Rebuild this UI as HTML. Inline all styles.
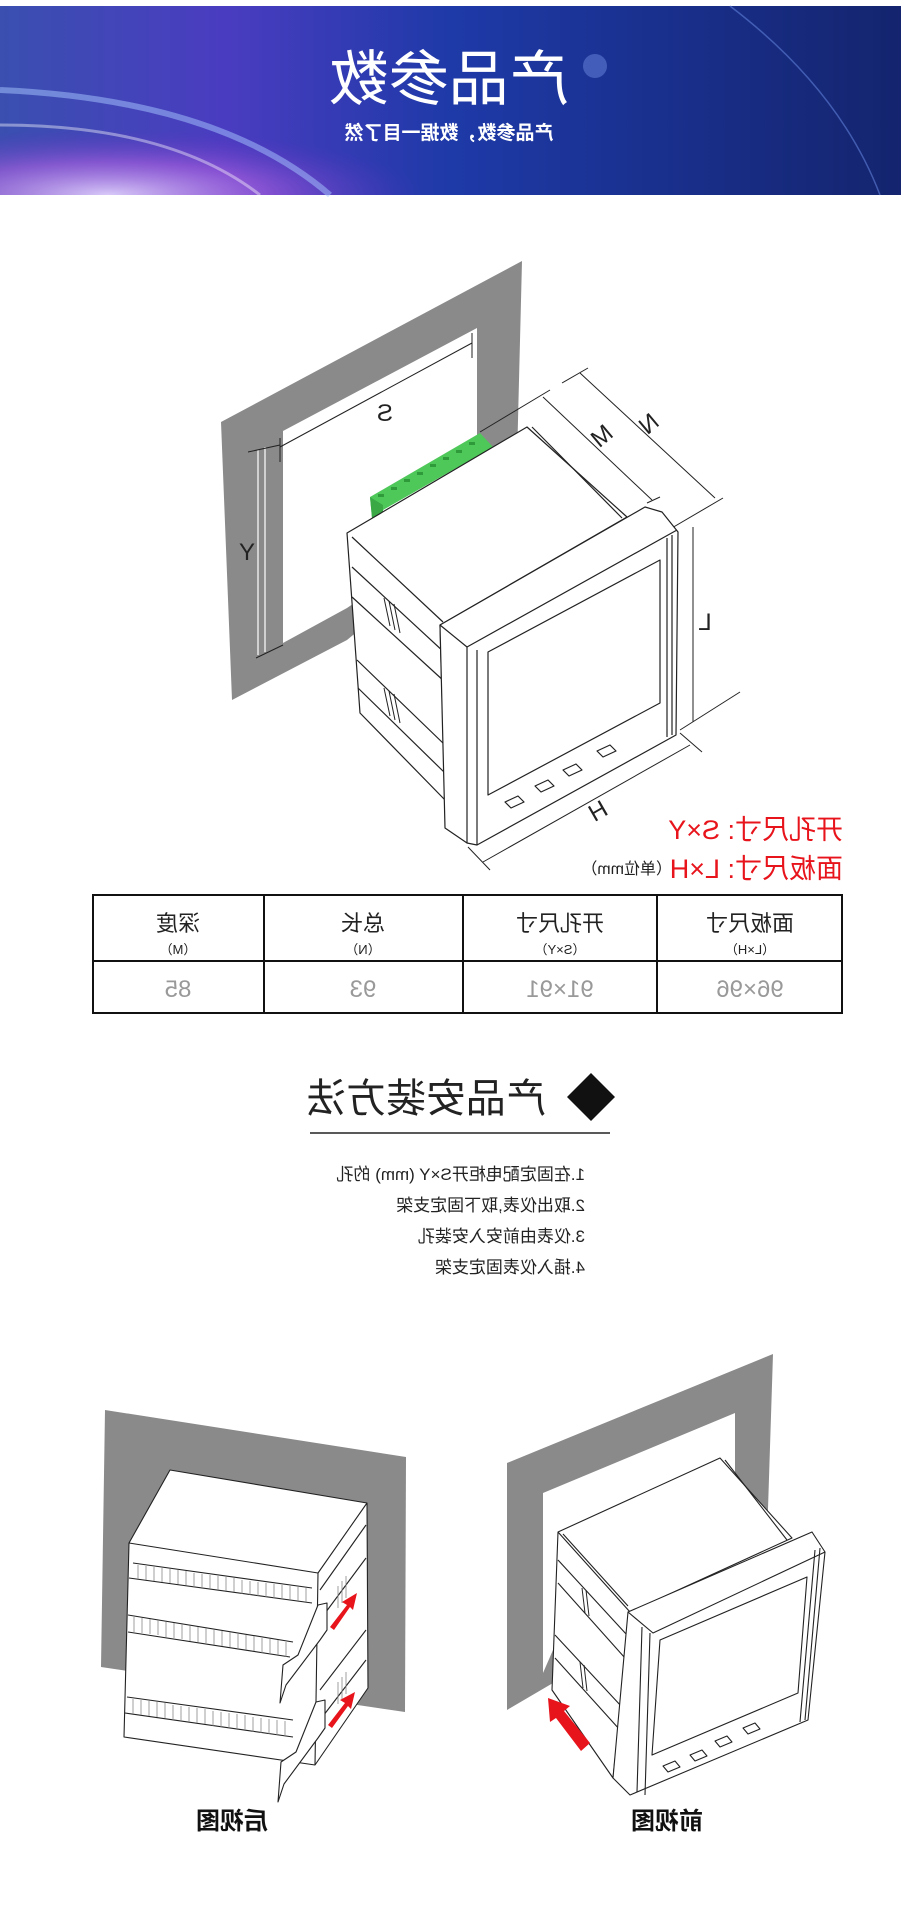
<!DOCTYPE html>
<html><head><meta charset="utf-8"><style>
html,body{margin:0;padding:0;background:#fff;width:901px;height:1909px;overflow:hidden}
svg{display:block}
text{font-family:"Liberation Sans","Noto Sans CJK SC",sans-serif}
</style></head><body>
<svg width="901" height="1909" viewBox="0 0 901 1909" xmlns="http://www.w3.org/2000/svg">
<defs>
<linearGradient id="bg" x1="0" y1="0" x2="1" y2="0">
<stop offset="0" stop-color="#3a4fb0"/><stop offset="0.25" stop-color="#4a3cc0"/><stop offset="0.5" stop-color="#1e3aa8"/><stop offset="1" stop-color="#14246e"/></linearGradient>
<radialGradient id="glow" cx="0.12" cy="1.0" r="0.35">
<stop offset="0" stop-color="#e8d8ff" stop-opacity="0.9"/><stop offset="0.5" stop-color="#b060e0" stop-opacity="0.6"/><stop offset="1" stop-color="#6030c0" stop-opacity="0"/></radialGradient>
</defs>
<rect x="0" y="6" width="901" height="189" fill="url(#bg)"/>
<rect x="0" y="6" width="901" height="189" fill="url(#glow)"/>
<path d="M0 90 Q220 100 330 195" stroke="#a8c8ff" stroke-width="6" fill="none" opacity="0.5"/>
<path d="M0 125 Q170 125 260 195" stroke="#fff" stroke-width="3" fill="none" opacity="0.4"/>
<circle cx="595" cy="66" r="12" fill="#8fb0ff" opacity="0.35"/>
<path d="M730 6 Q840 90 880 195" stroke="#5f80d8" stroke-width="1.5" fill="none" opacity="0.6"/>
<g fill="#fff" text-anchor="middle">
<text transform="translate(449,100) scale(-1,1)" font-size="60">产品参数</text>
<text transform="translate(449,139) scale(-1,1)" font-size="19" font-weight="bold">产品参数，数据一目了然</text>
</g>
<!-- diagram 1 frame -->
<path d="M221 422 L522 261 L516 500 L347 640 L232 700 Z M283 431 L477 328 L477 520 L347 608 L283 643 Z" fill="#8a8a8a" fill-rule="evenodd"/>
<g stroke="#fff" stroke-width="1.2"><line x1="258" y1="450" x2="258" y2="655"/><line x1="265" y1="447" x2="265" y2="652"/></g>
<g stroke="#222" stroke-width="1" fill="none">
<line x1="280" y1="447" x2="472" y2="343"/><line x1="280" y1="438" x2="280" y2="462"/><line x1="472" y1="333" x2="472" y2="358"/>
<line x1="248" y1="452" x2="280" y2="445"/><line x1="256" y1="658" x2="283" y2="645"/>
<line x1="480" y1="432" x2="550" y2="390"/>
<line x1="543" y1="397" x2="652" y2="500"/><line x1="562" y1="383" x2="588" y2="368"/><line x1="647" y1="503" x2="660" y2="497"/>
<line x1="580" y1="373" x2="715" y2="498"/><line x1="665" y1="532" x2="723" y2="498"/>
<line x1="693" y1="527" x2="693" y2="722"/>
<line x1="680" y1="730" x2="740" y2="692"/>
<line x1="483" y1="862" x2="690" y2="745"/><line x1="468" y1="847" x2="490" y2="870"/><line x1="680" y1="733" x2="702" y2="752"/>
</g>
<polygon points="370,497 480,433 493,447 383,510 372,518" fill="#4fc85a"/>
<polygon points="370,497 383,505 383,512 372,518" fill="#3aa845"/>
<g fill="#2f9a3a"><rect x="378" y="494" width="6" height="3"/><rect x="391" y="487" width="6" height="3"/><rect x="404" y="479" width="6" height="3"/><rect x="417" y="472" width="6" height="3"/><rect x="430" y="464" width="6" height="3"/><rect x="443" y="457" width="6" height="3"/><rect x="456" y="450" width="6" height="3"/><rect x="469" y="442" width="6" height="3"/></g>
<g stroke="#222" stroke-width="1.2" fill="#fff" stroke-linejoin="round">
<polygon points="347,533 527,427 627,517 440,625 445,800 360,713"/>
<line x1="352" y1="537" x2="443" y2="622"/>
<line x1="532" y1="427" x2="622" y2="518"/>
<line x1="352" y1="567" x2="445" y2="653"/><line x1="352" y1="597" x2="445" y2="682"/><line x1="357" y1="660" x2="445" y2="745"/><line x1="358" y1="688" x2="445" y2="773"/>
<polygon points="440,625 645,507 662,512 678,532 676,735 477,845 467,843 445,828"/>
<polyline points="440,625 467,647 677,530" fill="none"/>
<line x1="467" y1="647" x2="467" y2="843"/><line x1="477" y1="650" x2="477" y2="845"/>
<line x1="667" y1="538" x2="667" y2="737"/><line x1="672" y1="535" x2="672" y2="735"/>
<polygon points="488,652 660,560 660,703 488,795"/>
<polygon points="505,802 518,796 524,802 511,808"/><polygon points="535,786 548,780 554,786 541,792"/><polygon points="563,770 576,764 582,770 569,776"/><polygon points="597,751 610,745 616,751 603,757"/>
</g>
<g stroke="#222" stroke-width="1"><line x1="384" y1="598" x2="390" y2="626"/><line x1="389" y1="601" x2="395" y2="630"/><line x1="394" y1="604" x2="400" y2="633"/><line x1="384" y1="688" x2="390" y2="716"/><line x1="389" y1="691" x2="395" y2="720"/><line x1="394" y1="694" x2="400" y2="723"/></g>
<g fill="#222" font-size="24" text-anchor="middle">
<text transform="translate(385,421) scale(-1,1)">S</text>
<text transform="translate(247,560) scale(-1,1)">Y</text>
<text transform="translate(607,442) rotate(-40) scale(-1,1)">M</text>
<text transform="translate(654,430) rotate(-40) scale(-1,1)">N</text>
<text transform="translate(705,630) scale(-1,1)">L</text>
<text transform="translate(602,818) rotate(-30) scale(-1,1)">H</text>
</g>
<g fill="#e8141c" font-size="27">
<text transform="translate(843,839) scale(-1,1)">开孔尺寸: S×Y</text>
<text transform="translate(843,878) scale(-1,1)">面板尺寸: L×H</text>
</g>
<text transform="translate(672,874) scale(-1,1)" font-size="16" fill="#222">（单位mm）</text>
<!-- table -->
<g stroke="#111" stroke-width="2" fill="none"><rect x="93" y="895" width="749" height="118"/><line x1="93" y1="961" x2="842" y2="961"/><line x1="264" y1="895" x2="264" y2="1013"/><line x1="463" y1="895" x2="463" y2="1013"/><line x1="657" y1="895" x2="657" y2="1013"/></g>
<g text-anchor="middle" fill="#222">
<g font-size="22"><text transform="translate(178,931) scale(-1,1)">深度</text><text transform="translate(363,931) scale(-1,1)">总长</text><text transform="translate(560,931) scale(-1,1)">开孔尺寸</text><text transform="translate(750,931) scale(-1,1)">面板尺寸</text></g>
<g font-size="13"><text transform="translate(178,954) scale(-1,1)">（M）</text><text transform="translate(363,954) scale(-1,1)">（N）</text><text transform="translate(560,954) scale(-1,1)">（S×Y）</text><text transform="translate(750,954) scale(-1,1)">（L×H）</text></g>
<g font-size="24" fill="#999"><text transform="translate(178,997) scale(-1,1)">85</text><text transform="translate(363,997) scale(-1,1)">93</text><text transform="translate(560,997) scale(-1,1)">91×91</text><text transform="translate(750,997) scale(-1,1)">96×96</text></g>
</g>
<!-- section 2 -->
<text transform="translate(426,1112) scale(-1,1)" text-anchor="middle" font-size="40" fill="#222">产品安装方法</text>
<polygon points="591,1073 615,1097 591,1121 567,1097" fill="#111"/>
<line x1="310" y1="1133" x2="610" y2="1133" stroke="#222" stroke-width="1.5"/>
<g font-size="17" fill="#222">
<text transform="translate(585,1180) scale(-1,1)">1.在固定配电柜开S×Y (mm) 的孔</text>
<text transform="translate(585,1211) scale(-1,1)">2.取出仪表,取下固定支架</text>
<text transform="translate(585,1242) scale(-1,1)">3.仪表由前安入安装孔</text>
<text transform="translate(585,1273) scale(-1,1)">4.插入仪表固定支架</text>
</g>
<!-- rear view -->
<polygon points="105,1410 406,1457 405,1712 101,1667" fill="#8a8a8a"/>
<g stroke="#222" stroke-width="1.1" fill="#fff" stroke-linejoin="round">
<polygon points="170,1470 367,1503 368,1688 315,1765 124,1737 129,1543"/>
<line x1="129" y1="1543" x2="318" y2="1573"/><line x1="318" y1="1573" x2="367" y2="1503"/><line x1="318" y1="1573" x2="315" y2="1765"/>
<line x1="133" y1="1563" x2="312" y2="1588"/><line x1="129" y1="1578" x2="312" y2="1603"/>
<line x1="128" y1="1615" x2="293" y2="1642"/><line x1="128" y1="1632" x2="290" y2="1657"/>
<line x1="127" y1="1697" x2="293" y2="1720"/><line x1="125" y1="1713" x2="293" y2="1737"/>
<line x1="320" y1="1590" x2="366" y2="1525"/><line x1="320" y1="1620" x2="366" y2="1558"/><line x1="320" y1="1690" x2="366" y2="1630"/><line x1="320" y1="1720" x2="366" y2="1660"/>
<polygon points="327,1603 318,1605 298,1655 283,1665 280,1703 286,1685 320,1640 327,1630"/>
<polygon points="325,1700 316,1702 296,1752 281,1762 278,1802 284,1784 318,1738 325,1728"/>
</g>
<g stroke="#888" stroke-width="0.8">
<path d="M138 1565v14M146 1566v14M154 1567v14M162 1568v14M170 1569v14M178 1570v14M186 1571v14M194 1573v14M202 1574v14M210 1575v14M218 1576v14M226 1577v14M234 1578v14M242 1580v14M250 1581v14M258 1582v14M266 1583v14M274 1584v14M282 1585v14M290 1586v14M298 1587v14M306 1588v14"/>
<path d="M134 1617v15M142 1618v15M150 1619v15M158 1620v15M166 1622v15M174 1623v15M182 1624v15M190 1626v15M198 1627v15M206 1628v15M214 1630v15M222 1631v15M230 1632v15M238 1634v15M246 1635v15M254 1636v15M262 1638v15M270 1639v15M278 1640v15M286 1642v15"/>
<path d="M133 1699v15M141 1700v15M149 1701v15M157 1702v15M165 1703v15M173 1705v15M181 1706v15M189 1707v15M197 1708v15M205 1709v15M213 1711v15M221 1712v15M229 1713v15M237 1714v15M245 1715v15M253 1717v15M261 1718v15M269 1719v15M277 1720v15M285 1721v15"/>
<path d="M338 1586v22M342 1581v22M346 1576v22M338 1682v22M342 1677v22M346 1672v22"/>
</g>
<g fill="#e8141c">
<polygon points="330,1627 347,1605 342,1602 357,1593 353,1610 350,1607 334,1630"/>
<polygon points="328,1725 345,1703 340,1700 355,1692 351,1709 348,1706 332,1728"/>
</g>
<!-- front view -->
<path d="M507 1463 L773 1354 L767 1540 L630 1612 L553 1683 L507 1710 Z M543 1493 L735 1413 L735 1520 L553 1650 L543 1673 Z" fill="#8a8a8a" fill-rule="evenodd"/>
<g stroke="#222" stroke-width="1.1" fill="#fff" stroke-linejoin="round">
<polygon points="558,1532 720,1458 792,1538 630,1612 613,1778 552,1690"/>
<line x1="558" y1="1532" x2="630" y2="1612"/><line x1="725" y1="1460" x2="787" y2="1540"/><line x1="563" y1="1534" x2="628" y2="1606"/>
<line x1="558" y1="1560" x2="627" y2="1635"/><line x1="558" y1="1583" x2="625" y2="1658"/><line x1="555" y1="1635" x2="622" y2="1707"/><line x1="555" y1="1658" x2="620" y2="1730"/>
<polygon points="628,1612 812,1532 825,1552 808,1720 630,1795 613,1778"/>
<polyline points="628,1612 653,1633 825,1552" fill="none"/>
<line x1="642" y1="1627" x2="637" y2="1792"/><line x1="650" y1="1633" x2="645" y2="1795"/>
<line x1="815" y1="1550" x2="800" y2="1722"/><line x1="820" y1="1548" x2="805" y2="1720"/>
<polygon points="660,1640 807,1577 798,1693 652,1755"/>
<polygon points="663,1766 675,1761 680,1767 668,1772"/><polygon points="690,1755 702,1750 707,1756 695,1761"/><polygon points="715,1741 727,1736 732,1742 720,1747"/><polygon points="743,1728 755,1723 760,1729 748,1734"/>
</g>
<g stroke="#222"><line x1="582" y1="1588" x2="585" y2="1613"/><line x1="586" y1="1590" x2="589" y2="1616"/><line x1="580" y1="1662" x2="583" y2="1688"/><line x1="584" y1="1665" x2="587" y2="1691"/></g>
<polygon points="548,1698 570,1706 564,1711 590,1743 581,1751 556,1718 550,1722" fill="#e8141c"/>
<g font-size="24" font-weight="bold" fill="#111" text-anchor="middle">
<text transform="translate(232,1829) scale(-1,1)">后视图</text>
<text transform="translate(667,1829) scale(-1,1)">前视图</text>
</g>
</svg>
</body></html>
